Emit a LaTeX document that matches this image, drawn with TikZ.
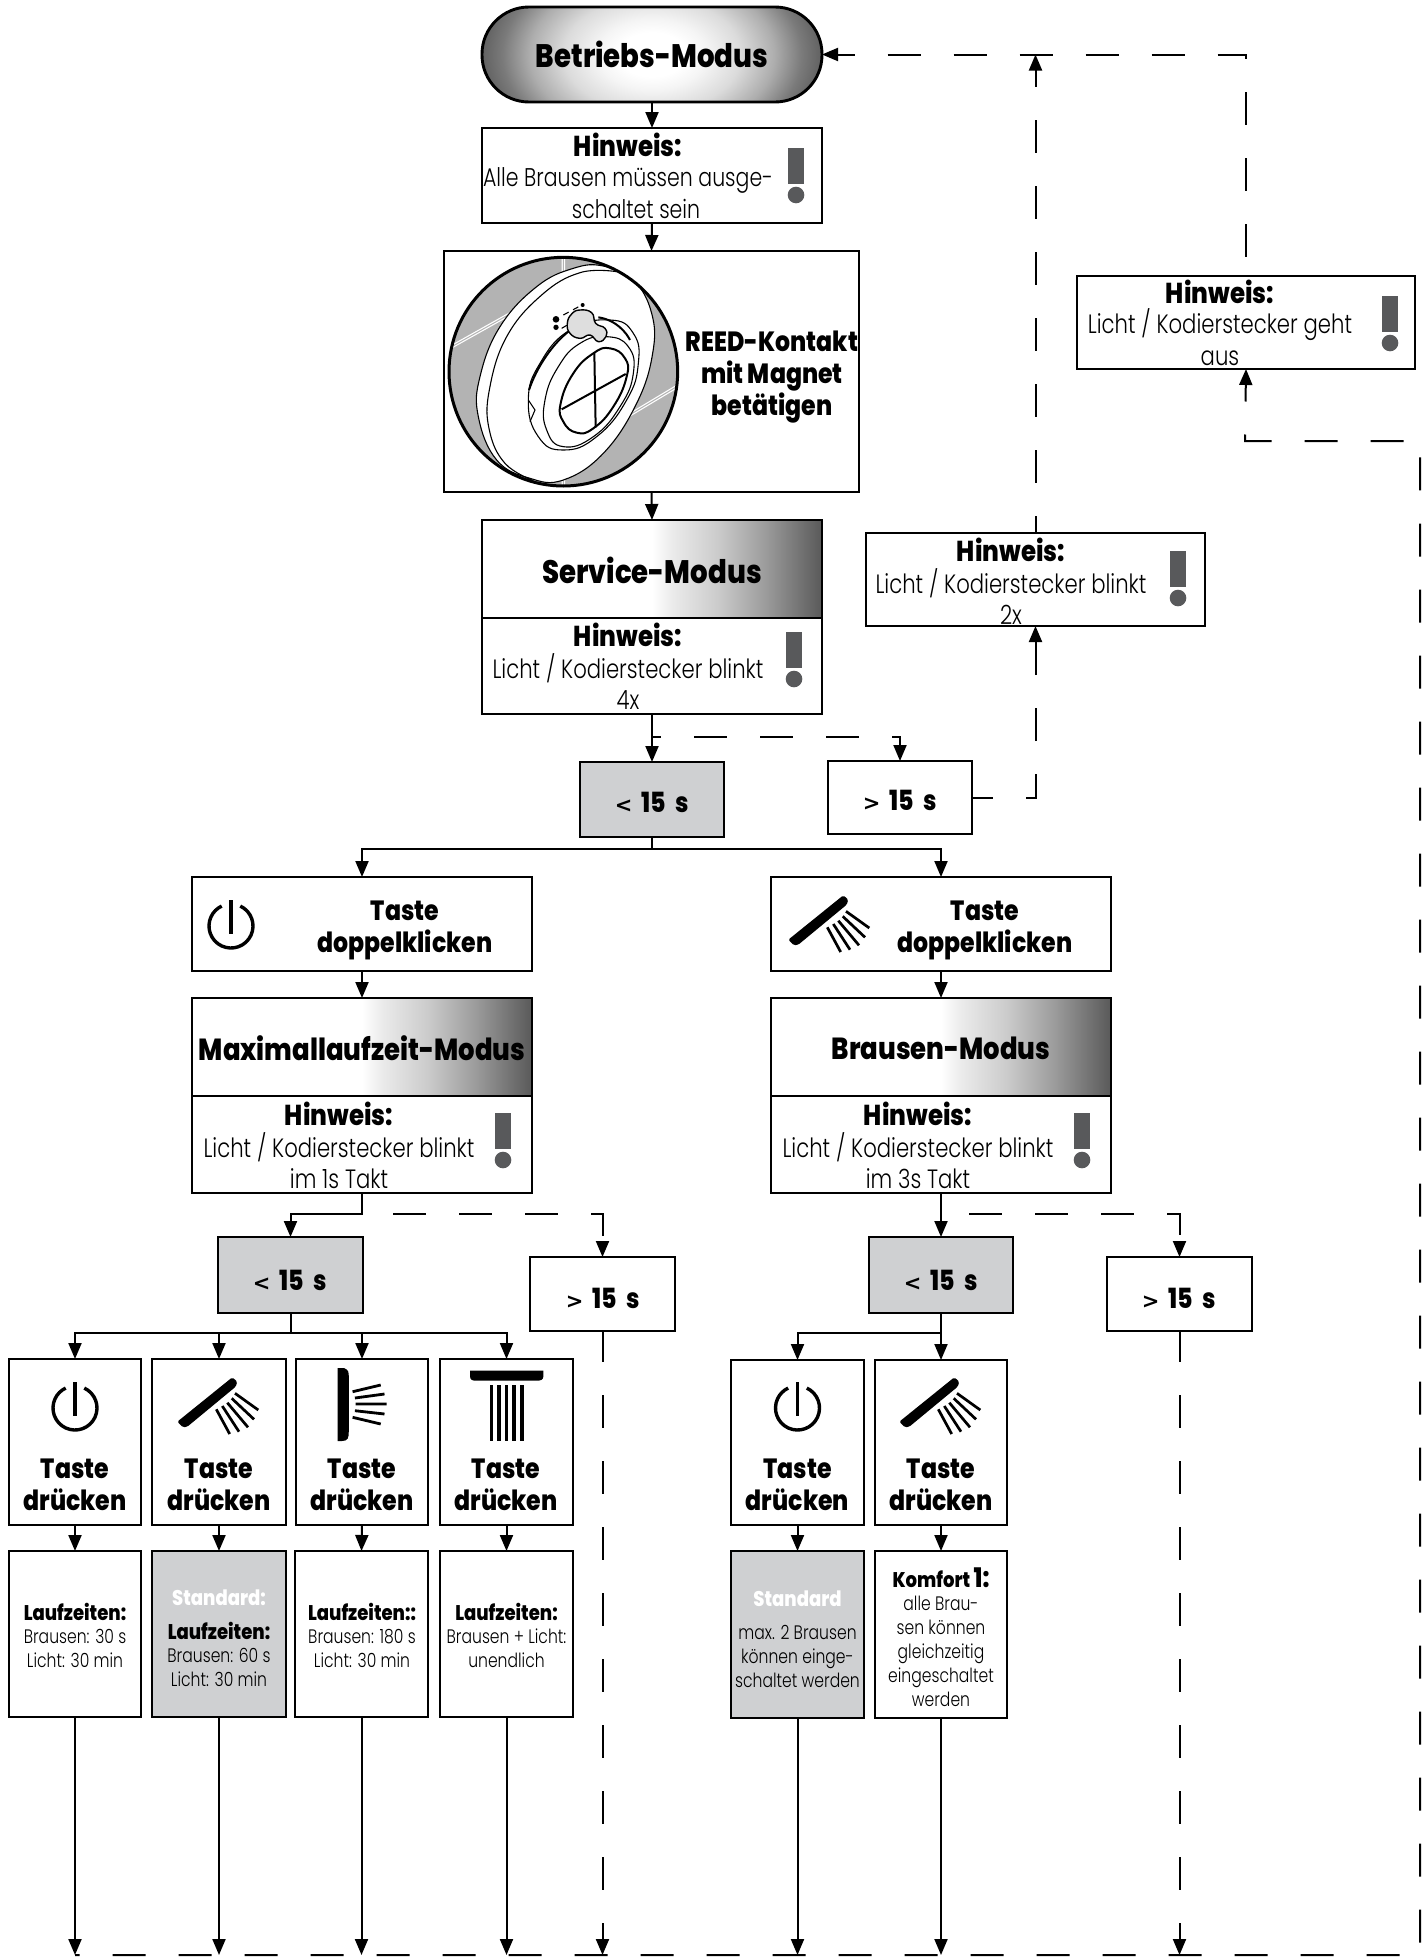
\documentclass[tikz,border=0pt]{standalone}
\usepackage{fontspec}
\usetikzlibrary{arrows.meta,calc,shadings}
\newfontfamily\fbx{Poppins}[FakeStretch=0.85,UprightFont=* ExtraBold]
\newfontfamily\flx{Poppins}[FakeStretch=0.8,UprightFont=* Light]
\newfontfamily\dvb{DejaVu Sans}[UprightFont=* Bold]
\definecolor{grayfill}{HTML}{CFD0D2}
\definecolor{exclam}{HTML}{58595B}
\definecolor{discgray}{HTML}{B3B3B3}
\pgfdeclareradialshading{bmshade}{\pgfpointorigin}{rgb(0bp)=(1,1,1); rgb(5bp)=(1,1,1); rgb(8bp)=(.96,.96,.96); rgb(13bp)=(.86,.86,.86); rgb(18bp)=(.68,.68,.68); rgb(22bp)=(.48,.48,.48); rgb(25bp)=(.38,.38,.38); rgb(50bp)=(.38,.38,.38)}
\pgfdeclarehorizontalshading{fadeshade}{100bp}{rgb(0bp)=(1,1,1); rgb(50bp)=(1,1,1); rgb(53bp)=(.92,.92,.92); rgb(59.5bp)=(.8,.8,.8); rgb(67bp)=(.6,.6,.6); rgb(75bp)=(.35,.35,.35); rgb(100bp)=(.35,.35,.35)}
\newcounter{tn}
\tikzset{
 box/.style={draw=black,line width=2.9pt,fill=white,rectangle,inner sep=0pt,outer sep=0pt},
 gbox/.style={box,fill=grayfill},
 fade/.style={path picture={\shade[shading=fadeshade] (path picture bounding box.south west) rectangle (path picture bounding box.north east);}},
 pill/.style={rounded corners=47pt,path picture={\shade[shading=bmshade] ($(path picture bounding box.center)+(-170,-110)$) rectangle ($(path picture bounding box.center)+(170,110)$);}},
 conn/.style={draw=black,line width=2pt},
 arr/.style={conn,-{Triangle[length=16pt,width=13pt]}},
 rarr/.style={conn,{Triangle[length=16pt,width=13pt]}-,dash pattern=on 33pt off 33pt,dash phase=16pt},
 ttitle/.style={font=\fbx\fontsize{32.5}{36}\selectfont},
 tmaxi/.style={font=\fbx\fontsize{30.5}{36}\selectfont},
 thint/.style={font=\fbx\fontsize{28.8}{32}\selectfont},
 thead/.style={font=\fbx\fontsize{27.8}{32}\selectfont},
 tbody/.style={font=\flx\fontsize{26.5}{32}\selectfont},
 tbodyb/.style={font=\flx\fontsize{25.6}{32}\selectfont},
 tsmb/.style={font=\fbx\fontsize{21.2}{24}\selectfont},
 tsml/.style={font=\flx\fontsize{19.5}{24}\selectfont},
}
\newcommand\bx[6][box]{\node[#1,minimum width={(#5-#3)*1pt},minimum height={(#6-#4)*1pt}] (#2) at ({(#3+#5)/2},{(#4+#6)/2}) {};}
\newcommand\tx[4][tbody]{\stepcounter{tn}\node[#1,align=center,inner sep=0pt] (t\arabic{tn}) at (#2,#3) {#4};}
\newcommand\lsign{{\dvb\fontsize{21}{32}\selectfont<}}
\newcommand\gsign{{\dvb\fontsize{21}{32}\selectfont>}}
\newcommand\excl[2]{\fill[exclam] (#1-8,#2) rectangle (#1+8,#2+36); \fill[exclam] (#1,#2+47) circle (8.3);}
\newcommand\powericon[2]{\begin{scope}[shift={(#1,#2)},x=1pt,y=1pt]
 \draw[line width=3.4pt] (65:22) arc (65:-245:22); \draw[line width=3.4pt] (0,26)--(0,-8);\end{scope}}
\newcommand\showdiag[2]{\begin{scope}[shift={(#1,#2)},x=1pt,y=1pt]
 \fill[rounded corners=1.5pt] (-41.7,-13.7)--(13.3,30.7)--(18.3,26.3)--(16.7,21.3)--(-31.7,-18.7)--(-36,-19.3)--cycle;
 \draw[line width=2.7pt] (-2.7,-1.3)--(10.7,-26) (3.3,2)--(20,-23.7) (8.3,5.3)--(29,-19.3) (12.7,9.7)--(35,-11.3) (16,14.7)--(39.3,-2);
 \end{scope}}
\newcommand\showside[2]{\begin{scope}[shift={(#1,#2)},x=1pt,y=1pt]
 \fill (-24.4,40) -- (-18,40) .. controls (-13.2,38) and (-13.2,36) .. (-13.2,30) -- (-13.2,-23) .. controls (-13.2,-30) and (-14,-33) .. (-20,-33) -- (-24.4,-33) -- cycle;
 \draw[line width=2.8pt] (-9.4,16.3)--(18.7,23) (-7.1,10)--(22.5,14) (-6.3,4)--(24.5,4) (-7.1,-2.7)--(22.5,-6) (-9.4,-9.3)--(18.7,-16);
 \end{scope}}
\newcommand\showtop[2]{\begin{scope}[shift={(#1,#2)},x=1pt,y=1pt]
 \fill (-36.5,37.3) -- (36.9,37.3) -- (36.9,32) .. controls (36.9,28) and (34,27.3) .. (30,27.3) -- (-30,27.3) .. controls (-34,27.3) and (-36.5,28) .. (-36.5,32) -- cycle;
 \foreach \xx in {-15,-7.4,0.2,7.6,15.3} {\draw[line width=3.4pt] (\xx,23)--(\xx,-32.7);}
 \end{scope}}
\begin{document}
\begin{tikzpicture}[x=1pt,y=-1pt]
\useasboundingbox (0,0) rectangle (1425,1957);
\fill[white] (0,0) rectangle (1425,1957);
% boxes
\bx[box,pill]{bm}{482}{7}{822}{102}
\bx{h1}{482}{128}{822}{223}
\bx{reed}{444}{251}{859}{492}
\bx[box,fade]{svc}{482}{520}{822}{618}
\bx{sh}{482}{618}{822}{714}
\bx[gbox]{lt}{580}{762}{724}{837}
\bx{gt}{828}{761}{972}{834}
\bx{h2}{866}{533}{1205}{626}
\bx{h3}{1077}{276}{1415}{369}
\bx{dl}{192}{877}{532}{971}
\bx{dr}{771}{877}{1111}{971}
\bx[box,fade]{mx}{192}{998}{532}{1096}
\bx{mh}{192}{1096}{532}{1193}
\bx[box,fade]{br}{771}{998}{1111}{1096}
\bx{bh}{771}{1096}{1111}{1193}
\bx[gbox]{ltl}{218}{1237}{363}{1313}
\bx{gtl}{530}{1257}{675}{1331}
\bx[gbox]{ltr}{869}{1237}{1013}{1313}
\bx{gtr}{1107}{1257}{1252}{1331}
\bx{a1}{9}{1359}{141}{1525}
\bx{a2}{152}{1359}{286}{1525}
\bx{a3}{296}{1359}{428}{1525}
\bx{a4}{440}{1359}{573}{1525}
\bx{b1}{9}{1551}{141}{1717}
\bx[gbox]{b2}{152}{1551}{286}{1717}
\bx{b3}{295}{1551}{428}{1717}
\bx{b4}{440}{1551}{573}{1717}
\bx{a5}{731}{1360}{864}{1525}
\bx{a6}{875}{1360}{1007}{1525}
\bx[gbox]{b5}{731}{1551}{864}{1718}
\bx{b6}{875}{1551}{1007}{1718}
% junction coordinates
\coordinate (busL) at (75,1955);
\coordinate (busR) at (1420,1955);
\coordinate (retn) at (1245,441);
% solid connectors
\draw[arr] (bm.south) -- (h1.north);
\draw[arr] (h1.south) -- (reed.north);
\draw[arr] (reed.south) -- (svc.north);
\draw[arr] (sh.south) -- (lt.north);
\draw[arr] (lt.south) -- ++(0,12) -| (dl.north);
\draw[arr] (lt.south) -- ++(0,12) -| (dr.north);
\draw[arr] (dl.south) -- (mx.north);
\draw[arr] (dr.south) -- (br.north);
\draw[arr] (mh.south) -- ++(0,21) -| (ltl.north);
\draw[arr] (bh.south) -- (ltr.north);
\foreach \n in {a1,a2,a3,a4} {\draw[arr] (ltl.south) -- ++(0,20) -| (\n.north);}
\foreach \n in {a5,a6} {\draw[arr] (ltr.south) -- ++(0,20) -| (\n.north);}
\foreach \n/\m in {a1/b1,a2/b2,a3/b3,a4/b4,a5/b5,a6/b6} {\draw[arr] (\n.south) -- (\m.north);}
\foreach \m in {b1,b2,b3,b4,b5,b6} {\draw[arr] (\m.south) -- (\m.south |- busL);}
% dashed connectors
\draw[rarr] (gt.north) |- ($(sh.south)+(0,23)$);
\draw[arr,dash pattern=on 33pt off 33pt,dash phase=12pt] (gt.east) -| (h2.south);
\draw[rarr] (h2.north |- bm.east) -- (h2.north);
\draw[rarr] (bm.east) -| (h3.north);
\draw[arr,dash pattern=on 33pt off 33pt,dash phase=35pt] ($(mh.south)+(0,21)$) -| (gtl.north);
\draw[arr,dash pattern=on 33pt off 33pt,dash phase=38pt] ($(bh.south)+(0,21)$) -| (gtr.north);
\draw[rarr] (gtl.south |- busL) -- (gtl.south);
\draw[rarr] (gtr.south |- busL) -- (gtr.south);
\draw[rarr] (h3.south) -- (retn) -- (retn -| busR) -- (busR) -- (busL);
% illustration
\begin{scope}[shift={(430,230)},x=0.33333pt,y=-0.33333pt]
 \begin{scope}
 \clip (400,425) circle (343);
 \fill[discgray] (400,425) circle (343);
 \draw[white,line width=1.2pt,double=discgray,double distance=1pt] (400,80)--(400,130) (400,730)--(400,770) (65,350)--(270,235) (590,560)--(740,470);
 \draw[line width=1.1pt,fill=white] plot[smooth cycle,tension=0.7] coordinates {(520,108)(610,150)(665,250)(668,370)(620,520)(520,670)(400,750)(300,745)(200,690)(145,560)(150,440)(210,290)(320,170)(430,115)};
 \draw[line width=1.1pt] plot[smooth,tension=0.7] coordinates {(560,125)(450,128)(335,195)(230,320)(178,480)(178,600)(225,700)(310,752)};
 \end{scope}
 \draw[line width=3pt] (400,425) circle (343);
 \draw[line width=1.1pt,fill=white] plot[smooth cycle,tension=0.8] coordinates {(540,270)(610,310)(625,400)(590,510)(500,620)(400,660)(325,620)(295,510)(330,400)(420,300)};
 \draw[line width=1.1pt] plot[smooth cycle,tension=0.8] coordinates {(530,320)(595,350)(610,430)(570,530)(490,620)(400,650)(350,600)(345,510)(385,410)(450,340)};
 \draw[line width=1.1pt] (295,510)--(315,540)--(300,575);
 \draw[line width=2pt] (505,262) .. controls (560,270) and (590,310) .. (600,330);
 \draw[line width=2pt] (415,305) .. controls (370,340) and (320,410) .. (297,480);
 \draw[line width=2pt,fill=white] plot[smooth cycle,tension=0.8] coordinates {(540,355)(585,385)(590,440)(550,530)(490,595)(440,608)(400,575)(392,520)(430,430)(490,370)};
 \draw[line width=2pt] (493,368)--(497,592) (395,538)--(587,432);
 \draw[line width=1.4pt,fill=black!13] plot[smooth cycle,tension=0.8] coordinates {(450,240)(485,248)(497,280)(525,295)(528,320)(505,335)(480,315)(450,325)(420,310)(412,280)(425,252)};
 \draw[line width=1.1pt,dash pattern=on 6pt off 5pt] (400,255)--(450,228) (395,295)--(412,285);
 \fill (378,268) circle (10) (378,292) circle (8) (458,225) circle (6);
\end{scope}
% icons and exclamation marks
\excl{796}{148}
\excl{794}{632}
\excl{1178}{551}
\excl{1390}{296}
\excl{503}{1113}
\excl{1082}{1113}
\powericon{231}{926}
\showdiag{830}{926}
\powericon{75}{1408}
\showdiag{219}{1408}
\showside{362}{1408}
\showtop{506.5}{1408}
\powericon{797.5}{1408}
\showdiag{941}{1408}
% texts
\tx[ttitle]{652}{54}{Betriebs-Modus}
\tx[thint]{628}{145}{Hinweis:}
\tx[tbodyb]{628}{180}{Alle Brausen müssen ausge-}
\tx[tbodyb]{636}{209}{schaltet sein}
\tx[thead]{772}{377}{REED-Kontakt\\mit Magnet\\betätigen}
\tx[ttitle]{652}{570}{Service-Modus}
\tx[thint]{628}{635}{Hinweis:}
\tx{628}{668}{Licht / Kodierstecker blinkt}
\tx{628}{700}{4x}
\tx[thead]{652}{802}{\lsign\,\,15\,\,s}
\tx[thead]{900}{800}{\gsign\,\,15\,\,s}
\tx[thint]{1011}{550}{Hinweis:}
\tx{1011}{583}{Licht / Kodierstecker blinkt}
\tx{1011}{615}{2x}
\tx[thint]{1220}{292}{Hinweis:}
\tx{1220}{325}{Licht / Kodierstecker geht}
\tx{1220}{358}{aus}
\tx[thead]{405}{930}{Taste\\doppelklicken}
\tx[thead]{985}{930}{Taste\\doppelklicken}
\tx[tmaxi]{362}{1048}{Maximallaufzeit-Modus}
\tx[tmaxi]{941}{1048}{Brausen-Modus}
\tx[thint]{339}{1114}{Hinweis:}
\tx{339}{1147}{Licht / Kodierstecker blinkt}
\tx{339}{1179}{im 1s Takt}
\tx[thint]{918}{1114}{Hinweis:}
\tx{918}{1147}{Licht / Kodierstecker blinkt}
\tx{918}{1179}{im 3s Takt}
\tx[thead]{290}{1280}{\lsign\,\,15\,\,s}
\tx[thead]{603}{1298}{\gsign\,\,15\,\,s}
\tx[thead]{941}{1280}{\lsign\,\,15\,\,s}
\tx[thead]{1179}{1298}{\gsign\,\,15\,\,s}
\foreach \xx in {75,219,362,506,797.5,941} {\tx[thead]{\xx}{1485}{Taste\\drücken}}
\tx[tsmb]{75}{1612}{Laufzeiten:}
\tx[tsml]{75}{1648}{Brausen: 30 s\\Licht: 30 min}
\tx[tsmb,text=white]{219}{1598}{Standard:}
\tx[tsmb]{219}{1631}{Laufzeiten:}
\tx[tsml]{219}{1667}{Brausen: 60 s\\Licht: 30 min}
\tx[tsmb]{362}{1612}{Laufzeiten::}
\tx[tsml]{362}{1648}{Brausen: 180 s\\Licht: 30 min}
\tx[tsmb]{506.5}{1612}{Laufzeiten:}
\tx[tsml]{506.5}{1648}{Brausen + Licht:\\unendlich}
\tx[tsmb,text=white]{797.5}{1599}{Standard}
\tx[tsml]{797.5}{1656}{max. 2 Brausen\\können einge-\\schaltet werden}
\tx[tsmb]{941}{1578}{Komfort {\fontsize{27}{24}\selectfont 1:}}
\tx[tsml]{941}{1651}{alle Brau-\\sen können\\gleichzeitig\\eingeschaltet\\werden}
\end{tikzpicture}
\end{document}
